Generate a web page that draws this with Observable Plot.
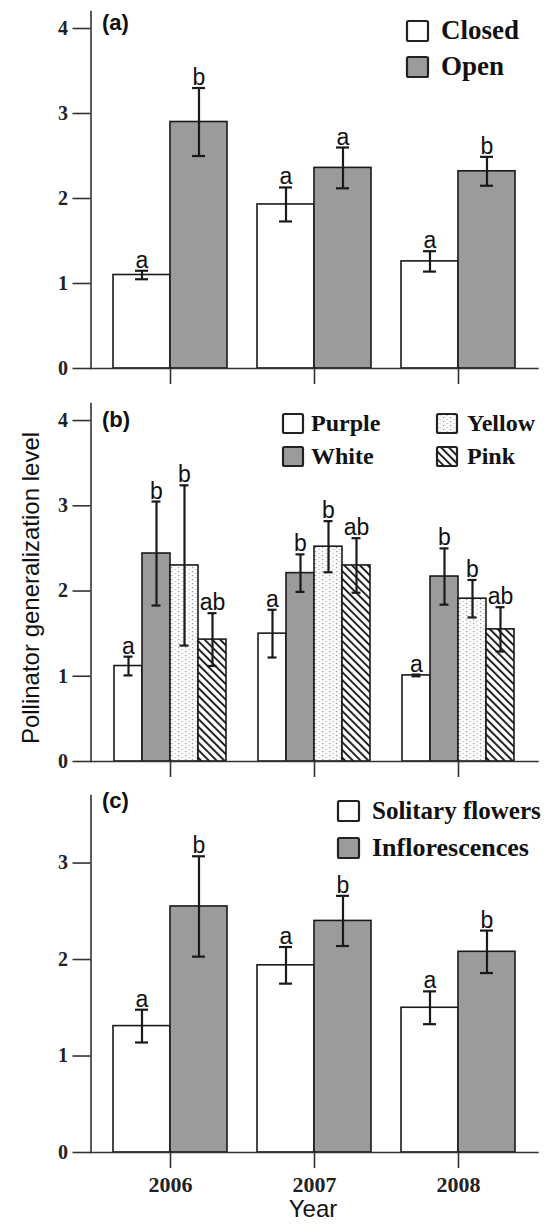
<!DOCTYPE html>
<html>
<head>
<meta charset="utf-8">
<script src="https://cdn.jsdelivr.net/npm/d3@7"></script>
<script src="https://cdn.jsdelivr.net/npm/@observablehq/plot@0.6"></script>
<style>
  html, body { margin: 0; padding: 0; background: #fff; }
  #wrap { position: relative; width: 550px; height: 1224px; overflow: hidden; }
  #panels svg { display: block; }
  #overlay { position: absolute; left: 0; top: 0; pointer-events: none; }
</style>
</head>
<body>
<div id="wrap">
  <div id="panels"></div>
  <svg id="overlay" width="550" height="1224" xmlns="http://www.w3.org/2000/svg">
    <defs>
      <pattern id="hatch" patternUnits="userSpaceOnUse" width="5.5" height="5.5" patternTransform="rotate(-45)">
        <rect width="5.5" height="5.5" fill="#fff"></rect>
        <line x1="1" y1="0" x2="1" y2="5.5" stroke="#1a1a1a" stroke-width="1.9"></line>
      </pattern>
      <pattern id="dots" patternUnits="userSpaceOnUse" width="7" height="4">
        <rect width="7" height="4" fill="#fbfbfb"></rect>
        <rect x="2" y="1" width="1.2" height="1.2" fill="#9a9a9a"></rect>
        <rect x="5.5" y="3" width="1.2" height="1.2" fill="#b5b5b5"></rect>
      </pattern>
    </defs>
    <g id="labels"></g>
  </svg>
</div>
<script>
// ---------------- data ----------------
const years = ["2006", "2007", "2008"];

// (a) flower state
const closedMean = [1.10, 1.93, 1.26];
const closedErr  = [0.05, 0.20, 0.12];
const closedSig  = ["a", "a", "a"];
const openMean   = [2.90, 2.36, 2.32];
const openErr    = [0.40, 0.24, 0.17];
const openSig    = ["b", "a", "b"];

// (b) flower colour
const purpleMean = [1.12, 1.50, 1.01];
const purpleErr  = [0.11, 0.28, 0.01];
const purpleSig  = ["a", "a", "a"];
const whiteMean  = [2.44, 2.21, 2.17];
const whiteErr   = [0.61, 0.22, 0.33];
const whiteSig   = ["b", "b", "b"];
const yellowMean = [2.30, 2.52, 1.91];
const yellowErr  = [0.94, 0.30, 0.22];
const yellowSig  = ["b", "b", "b"];
const pinkMean   = [1.43, 2.30, 1.55];
const pinkErr    = [0.31, 0.32, 0.26];
const pinkSig    = ["ab", "ab", "ab"];

// (c) flower arrangement
const solitaryMean = [1.31, 1.94, 1.50];
const solitaryErr  = [0.17, 0.19, 0.17];
const solitarySig  = ["a", "a", "a"];
const inflorMean   = [2.55, 2.40, 2.08];
const inflorErr    = [0.52, 0.26, 0.22];
const inflorSig    = ["b", "b", "b"];

const seriesA = ["Closed", "Open"];
const seriesB = ["Purple", "White", "Yellow", "Pink"];
const seriesC = ["Solitary flowers", "Inflorescences"];
const ticksAB = [0, 1, 2, 3, 4];
const ticksC  = [0, 1, 2, 3];

// ---------------- helpers ----------------
const SERIF = "'Liberation Serif','Times New Roman',serif";
const SANS  = "'Liberation Sans',Arial,Helvetica,sans-serif";
const INK = "#1a1a1a";
const AXIS = "#333";
const GRAY = "#9b9b9b";

function table(groups) {
  return years.flatMap((year, i) => groups.map(g => ({
    year, series: g.name, mean: g.mean[i],
    lo: g.mean[i] - g.err[i], hi: g.mean[i] + g.err[i], sig: g.sig[i]
  })));
}

const dataA = table([
  {name: "Closed", mean: closedMean, err: closedErr, sig: closedSig},
  {name: "Open", mean: openMean, err: openErr, sig: openSig}
]);
const dataB = table([
  {name: "Purple", mean: purpleMean, err: purpleErr, sig: purpleSig},
  {name: "White", mean: whiteMean, err: whiteErr, sig: whiteSig},
  {name: "Yellow", mean: yellowMean, err: yellowErr, sig: yellowSig},
  {name: "Pink", mean: pinkMean, err: pinkErr, sig: pinkSig}
]);
const dataC = table([
  {name: "Solitary flowers", mean: solitaryMean, err: solitaryErr, sig: solitarySig},
  {name: "Inflorescences", mean: inflorMean, err: inflorErr, sig: inflorSig}
]);

const FX_OUTER = 0.052;
const OUT = -7.5; // reach from the facet area out to the frame edges

function panel(o) {
  const fxy = {fx: "year", x: "series"};
  return Plot.plot({
    width: 550, height: o.height,
    marginLeft: 90, marginRight: 13, marginTop: o.marginTop, marginBottom: o.marginBottom,
    fx: {domain: years, paddingInner: 0, paddingOuter: FX_OUTER, label: null},
    x: {domain: o.series, paddingInner: 0, paddingOuter: o.po, axis: null},
    y: {domain: [0, o.yMax], axis: null},
    color: {type: "ordinal", domain: o.series, range: o.fills},
    style: {fontFamily: SANS, background: "transparent", overflow: "visible"},
    marks: [
      Plot.barY(o.data, {...fxy, y: "mean", fill: {value: "series", scale: "color"}, stroke: INK, strokeWidth: 1.6}),
      Plot.ruleX(o.data, {...fxy, y1: "lo", y2: "hi", stroke: INK, strokeWidth: 2.2}),
      Plot.tickY(o.data, {...fxy, y: "lo", stroke: INK, strokeWidth: 2.2, insetLeft: o.cap, insetRight: o.cap}),
      Plot.tickY(o.data, {...fxy, y: "hi", stroke: INK, strokeWidth: 2.2, insetLeft: o.cap, insetRight: o.cap}),
      Plot.text(o.data, {...fxy, y: "hi", text: "sig", lineAnchor: "bottom", dy: -3,
        fontFamily: SANS, fontSize: 23, fill: "#111"}),
      // axis lines spanning the whole frame
      Plot.frame({anchor: "left", facet: "super", insetLeft: OUT, stroke: AXIS, strokeWidth: 1.6}),
      Plot.frame({anchor: "bottom", facet: "super", insetLeft: OUT, insetRight: OUT, stroke: AXIS, strokeWidth: 1.6}),
      // y axis drawn at the frame's left edge (shifted from the first facet's edge)
      Plot.axisY({ticks: o.ticks, tickSize: 18, tickPadding: 5, tickFormat: d => String(d),
        dx: OUT, fontFamily: SERIF, fontWeight: "bold", fontSize: 20,
        stroke: AXIS, strokeWidth: 1.6, color: "#222", label: null}),
      Plot.axisFx({anchor: "bottom", tickSize: 16, tickPadding: 8,
        tickFormat: o.yearLabels ? (d => d) : (() => ""),
        fontFamily: SERIF, fontWeight: "bold", fontSize: 22, stroke: AXIS, strokeWidth: 1.6,
        color: "#222", label: null})
    ]
  });
}

const holder = document.getElementById("panels");
holder.append(panel({data: dataA, series: seriesA, fills: ["#fff", GRAY], po: 0.252, cap: 22,
  yMax: 4.2, ticks: ticksAB, height: 390, marginTop: 11, marginBottom: 22, yearLabels: false}));
holder.append(panel({data: dataB, series: seriesB, fills: ["#fff", GRAY, "url(#dots)", "url(#hatch)"], po: 0.504, cap: 9.5,
  yMax: 4.2, ticks: ticksAB, height: 390, marginTop: 13, marginBottom: 19, yearLabels: false}));
holder.append(panel({data: dataC, series: seriesC, fills: ["#fff", GRAY], po: 0.252, cap: 22,
  yMax: 3.7, ticks: ticksC, height: 444, marginTop: 15, marginBottom: 72, yearLabels: true}));

// ---------------- legends & labels (overlay) ----------------
const g = d3.select("#labels");
function swatch(x, y, w, h, fill) {
  g.append("rect").attr("x", x).attr("y", y).attr("width", w).attr("height", h)
    .attr("rx", 1.5).attr("fill", fill).attr("stroke", "#222").attr("stroke-width", 2.2);
}
function label(x, y, text, size, family, weight, anchor) {
  return g.append("text").attr("x", x).attr("y", y).attr("font-size", size)
    .attr("font-family", family).attr("font-weight", weight || "normal")
    .attr("text-anchor", anchor || "start").attr("fill", "#111").text(text);
}
swatch(407, 21, 21, 20, "#fff"); label(441, 39, seriesA[0], 27, SERIF, "bold");
swatch(407, 57, 21, 20, GRAY);   label(441, 75, seriesA[1], 27, SERIF, "bold");
swatch(283, 414, 20, 19, "#fff");        label(311, 431, seriesB[0], 24, SERIF, "bold");
swatch(283, 447, 20, 19, GRAY);          label(311, 464, seriesB[1], 24, SERIF, "bold");
swatch(437, 414, 20, 19, "url(#dots)");  label(467, 431, seriesB[2], 24, SERIF, "bold");
swatch(437, 447, 20, 19, "url(#hatch)"); label(467, 464, seriesB[3], 24, SERIF, "bold");
swatch(338, 801, 21, 20, "#fff"); label(372, 819, seriesC[0], 25, SERIF, "bold");
swatch(338, 838, 21, 20, GRAY);   label(372, 856, seriesC[1], 26, SERIF, "bold");
label(102, 30, "(a)", 22, SANS, "bold");
label(102, 427, "(b)", 22, SANS, "bold");
label(102, 808, "(c)", 22, SANS, "bold");
label(0, 0, "Pollinator generalization level", 24, SANS, "normal", "middle")
  .attr("transform", "translate(39,588) rotate(-90)");
label(313, 1217, "Year", 24, SANS, "normal", "middle");
</script>
</body>
</html>
